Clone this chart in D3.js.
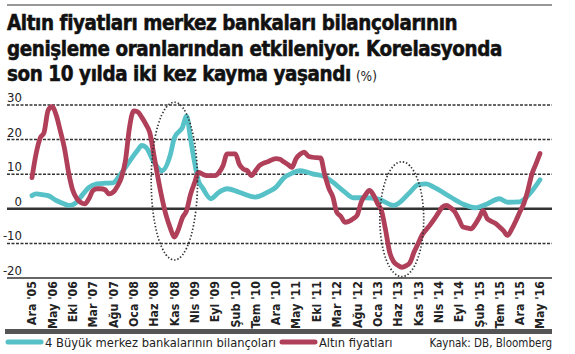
<!DOCTYPE html>
<html>
<head>
<meta charset="utf-8">
<script src="https://cdn.jsdelivr.net/npm/d3@7"></script>
<style>
  html, body { margin: 0; padding: 0; background: #fff; }
  svg { display: block; font-family: "DejaVu Sans Condensed", "DejaVu Sans", sans-serif; }
</style>
</head>
<body>
<div id="chart"></div>
<script>
const titleLines = [
  "Altın fiyatları merkez bankaları bilançolarının",
  "genişleme oranlarından etkileniyor. Korelasyonda",
  "son 10 yılda iki kez kayma yaşandı",
];
const titleUnit = "(%)";
const seriesNames = ["4 Büyük merkez bankalarının bilançoları", "Altın fiyatları"];
const sourceText = "Kaynak: DB, Bloomberg";
const shortMonths = ["Oca", "Şub", "Mar", "Nis", "May", "Haz", "Tem", "Ağu", "Eyl", "Eki", "Kas", "Ara"];
const yTicks = [-20, -10, 0, 10, 20, 30];

// 4 büyük merkez bankası bilançoları, yıllık değişim (%)
const balanceSheets = [
  ["2005-12", 3.8], ["2006-01", 4.3], ["2006-03", 4], ["2006-04", 3.8], ["2006-06", 2.4],
  ["2006-08", 1.4], ["2006-09", 1], ["2006-10", 1.2], ["2006-11", 2], ["2006-12", 3.4],
  ["2007-02", 6.2], ["2007-04", 7.2], ["2007-06", 7.4], ["2007-08", 7.5], ["2007-09", 8.7],
  ["2007-11", 12], ["2008-02", 17], ["2008-03", 18.3], ["2008-04", 17.8], ["2008-06", 13.5],
  ["2008-08", 11], ["2008-10", 15.5], ["2008-11", 20.5], ["2009-01", 23.6], ["2009-02", 26.8],
  ["2009-03", 20.5], ["2009-04", 13.5], ["2009-05", 8], ["2009-06", 6], ["2009-08", 2.9],
  ["2009-10", 4.8], ["2009-12", 5.8], ["2010-03", 4.8], ["2010-07", 3.4], ["2010-10", 4.8],
  ["2010-12", 6.2], ["2011-02", 9], ["2011-04", 10.3], ["2011-06", 11], ["2011-09", 10.1],
  ["2011-12", 9.3], ["2012-02", 7.7], ["2012-05", 4.8], ["2012-07", 3.2], ["2012-10", 3.2],
  ["2013-01", 2.9], ["2013-05", 1], ["2013-09", 4.8], ["2013-11", 7], ["2014-01", 7.2],
  ["2014-03", 6.2], ["2014-07", 3.4], ["2014-10", 1.4], ["2015-01", 0.3], ["2015-04", 1.4],
  ["2015-07", 2.9], ["2015-09", 1.9], ["2015-12", 2], ["2016-02", 3.8], ["2016-05", 8.4],
];

// altın fiyatları, yıllık değişim (%)
const goldPrices = [
  ["2005-12", 9], ["2006-01", 16], ["2006-02", 20.5], ["2006-03", 22], ["2006-04", 28.5],
  ["2006-05", 29.5], ["2006-06", 27], ["2006-07", 22.5], ["2006-08", 17.5], ["2006-09", 10.5],
  ["2006-10", 5.5], ["2006-11", 3], ["2006-12", 1.8], ["2007-01", 1.4], ["2007-02", 3],
  ["2007-03", 5.2], ["2007-04", 5.8], ["2007-05", 5.8], ["2007-06", 5.5], ["2007-07", 4.3],
  ["2007-08", 4.8], ["2007-09", 6.5], ["2007-10", 9], ["2007-11", 14], ["2007-12", 23.5],
  ["2008-01", 28.3], ["2008-02", 28], ["2008-03", 26.5], ["2008-04", 24.5], ["2008-05", 22],
  ["2008-06", 15.5], ["2008-07", 9], ["2008-08", 3], ["2008-09", -2], ["2008-10", -5.5],
  ["2008-11", -8.2], ["2008-12", -6], ["2009-01", -2.5], ["2009-02", -0.5], ["2009-03", 4],
  ["2009-04", 7.5], ["2009-05", 10.5], ["2009-06", 10], ["2009-07", 9.6], ["2009-09", 9.6],
  ["2009-10", 10.5], ["2009-11", 12.5], ["2009-12", 15.9], ["2010-02", 15.9], ["2010-03", 13],
  ["2010-04", 11.5], ["2010-05", 11], ["2010-06", 9.6], ["2010-07", 11], ["2010-08", 12.5],
  ["2010-09", 13.2], ["2010-10", 13.6], ["2010-12", 14.5], ["2011-01", 14.3], ["2011-02", 13.5],
  ["2011-03", 12.8], ["2011-04", 12], ["2011-05", 14.5], ["2011-06", 15.8], ["2011-07", 16.4],
  ["2011-08", 15.2], ["2011-09", 14.9], ["2011-11", 14.7], ["2011-12", 10], ["2012-01", 6],
  ["2012-02", 3.4], ["2012-03", -1], ["2012-04", -2.2], ["2012-05", -3.9], ["2012-07", -2.9],
  ["2012-08", -1.8], ["2012-09", 2], ["2012-10", 4], ["2012-11", 5.3], ["2012-12", 4],
  ["2013-01", 1.5], ["2013-02", -0.8], ["2013-03", -6], ["2013-04", -12.5], ["2013-05", -15.3],
  ["2013-06", -16.3], ["2013-07", -16.9], ["2013-08", -16.5], ["2013-09", -15.5], ["2013-10", -12.5],
  ["2013-11", -10], ["2013-12", -7.5], ["2014-01", -6], ["2014-02", -4.5], ["2014-03", -3],
  ["2014-04", -1.2], ["2014-05", 0.5], ["2014-06", 1], ["2014-07", 0.3], ["2014-08", -0.8],
  ["2014-09", -3], ["2014-10", -5.2], ["2014-11", -5.5], ["2014-12", -5.8], ["2015-01", -4.5],
  ["2015-02", -2.5], ["2015-03", -0.5], ["2015-04", -2.8], ["2015-05", -3.6], ["2015-06", -4.2],
  ["2015-07", -5.2], ["2015-08", -6.3], ["2015-09", -7.7], ["2015-10", -6], ["2015-11", -3.6],
  ["2015-12", -1], ["2016-01", 1.5], ["2016-02", 5.5], ["2016-03", 10], ["2016-04", 13],
  ["2016-05", 16],
];

// korelasyonun kaydığı iki dönem: merkez tarih, değer, yarıçap (ay, puan)
const shiftPeriods = [
  { center: "2008-11", value: 8, months: 5.7, points: 22.8 },
  { center: "2013-07", value: -3, months: 5.4, points: 16.6 },
];

const width = 575, height = 354;
const colors = ["#57c1c8", "#b03f5a"];
const ink = "#222";

const parseMonth = d3.timeParse("%Y-%m");
const locale = d3.timeFormatLocale({
  dateTime: "%a %e %b %X %Y", date: "%d.%m.%Y", time: "%H:%M:%S", periods: ["", ""],
  days: ["Pazar", "Pazartesi", "Salı", "Çarşamba", "Perşembe", "Cuma", "Cumartesi"],
  shortDays: ["Paz", "Pzt", "Sal", "Çar", "Per", "Cum", "Cmt"],
  months: ["Ocak", "Şubat", "Mart", "Nisan", "Mayıs", "Haziran", "Temmuz", "Ağustos", "Eylül", "Ekim", "Kasım", "Aralık"],
  shortMonths,
});
const fmt = locale.format("%b '%y");

const svg = d3.select("#chart").append("svg").attr("width", width).attr("height", height);

// başlık
svg.append("line").attr("x1", 7).attr("x2", 552).attr("y1", 5).attr("y2", 5)
  .attr("stroke", "#333").attr("stroke-width", 1.2);

const titleG = svg.append("g").attr("font-weight", 700).attr("fill", "#111")
  .attr("stroke", "#111").attr("stroke-width", 0.5);
const titleText = titleG.selectAll("text").data(titleLines).join("text")
  .attr("x", 7).attr("y", (d, i) => 30 + i * 25.5)
  .attr("font-size", 20).attr("letter-spacing", -0.4)
  .text((d) => d);
const natural = titleText.nodes()[1].getComputedTextLength();
const fs = 20 * 495 / natural;
titleText.attr("font-size", fs);
const l3 = titleText.nodes()[2].getComputedTextLength();
svg.append("text").attr("x", 7 + l3 + 5).attr("y", 30 + 2 * 25.5)
  .attr("font-size", 13.5).attr("fill", ink).text(titleUnit);

// ölçekler
const x = d3.scaleTime().domain([parseMonth("2005-12"), parseMonth("2016-05")]).range([32, 540]);
const y = d3.scaleLinear().domain([-20, 30]).range([278, 105]);

// ızgara
const grid = svg.append("g");
grid.selectAll("line").data(yTicks).join("line")
  .attr("x1", 7).attr("x2", 552)
  .attr("y1", (d) => y(d)).attr("y2", (d) => y(d))
  .attr("stroke", "#333")
  .attr("stroke-width", (d) => (d === 0 ? 2.4 : 1.5))
  .attr("stroke-dasharray", (d) => (d === 0 || d === -20 ? null : "3,1.5"));

svg.append("g").selectAll("text").data(yTicks).join("text")
  .attr("x", 22).attr("y", (d) => y(d) - 3)
  .attr("text-anchor", "end").attr("font-size", 13).attr("fill", ink)
  .text((d) => d);

// x ekseni
const tickDates = d3.timeMonth.range(parseMonth("2005-12"), d3.timeMonth.offset(parseMonth("2016-05"), 1), 5);
svg.append("g").selectAll("text").data(tickDates).join("text")
  .attr("transform", (d) => `translate(${x(d)},281) rotate(-90)`)
  .attr("text-anchor", "end").attr("dy", "0.36em")
  .attr("font-size", 12.3).attr("font-weight", 700).attr("fill", ink)
  .text((d) => fmt(d));

svg.append("rect").attr("x", 5).attr("y", 329).attr("width", 547).attr("height", 5).attr("fill", "#555");

// seriler
const line = d3.line()
  .x((d) => x(parseMonth(d[0])))
  .y((d) => y(d[1]))
  .curve(d3.curveMonotoneX);

svg.append("g").selectAll("path").data([balanceSheets, goldPrices]).join("path")
  .attr("d", line)
  .attr("fill", "none")
  .attr("stroke", (d, i) => colors[i])
  .attr("stroke-width", 4.8)
  .attr("stroke-linecap", "round")
  .attr("stroke-linejoin", "round");

// kayma dönemleri
const monthPx = (x(parseMonth("2006-12")) - x(parseMonth("2005-12"))) / 12;
svg.append("g").selectAll("ellipse").data(shiftPeriods).join("ellipse")
  .attr("cx", (d) => x(parseMonth(d.center)))
  .attr("cy", (d) => y(d.value))
  .attr("rx", (d) => monthPx * d.months)
  .attr("ry", (d) => y(0) - y(d.points))
  .attr("fill", "none")
  .attr("stroke", "#333")
  .attr("stroke-width", 1.7)
  .attr("stroke-dasharray", "1.4,2");

// lejant
const legend = svg.append("g").attr("font-size", 12.8).attr("fill", ink);
const legendX = [8, 282];
seriesNames.forEach((name, i) => {
  legend.append("line").attr("x1", legendX[i]).attr("x2", legendX[i] + 33)
    .attr("y1", 342).attr("y2", 342)
    .attr("stroke", colors[i]).attr("stroke-width", 5).attr("stroke-linecap", "round");
  legend.append("text").attr("x", legendX[i] + 37).attr("y", 346.5).text(name);
});
legend.append("text").attr("x", 552).attr("y", 346.5).attr("text-anchor", "end")
  .attr("font-size", 11.5).text(sourceText);
</script>
</body>
</html>
